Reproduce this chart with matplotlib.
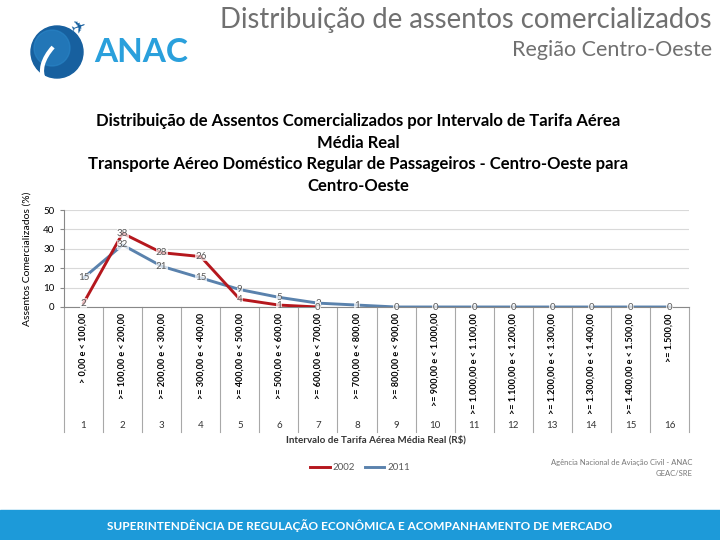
import matplotlib
matplotlib.use('Agg')
import matplotlib.pyplot as plt
from matplotlib.patches import Circle, Arc, Rectangle
from matplotlib.transforms import blended_transform_factory
import numpy as np

plt.rcParams['font.family'] = ['Lato', 'DejaVu Sans']

# data
categories = list(range(1, 17))
intervals = ['> 0,00 e < 100,00', '>= 100,00 e < 200,00', '>= 200,00 e < 300,00',
             '>= 300,00 e < 400,00', '>= 400,00 e < 500,00', '>= 500,00 e < 600,00',
             '>= 600,00 e < 700,00', '>= 700,00 e < 800,00', '>= 800,00 e < 900,00',
             '>= 900,00 e < 1.000,00', '>= 1.000,00 e < 1.100,00', '>= 1.100,00 e < 1.200,00',
             '>= 1.200,00 e < 1.300,00', '>= 1.300,00 e < 1.400,00', '>= 1.400,00 e < 1.500,00',
             '>= 1.500,00']
vals_2002 = [2, 38, 28, 26, 4, 1, 0]
vals_2011 = [15, 32, 21, 15, 9, 5, 2, 1, 0, 0, 0, 0, 0, 0, 0, 0]
years = ['2002', '2011']

col_2002 = '#b5171d'
col_2011 = '#5a82ad'
grey = '#595959'

fig = plt.figure(figsize=(7.2, 5.4), dpi=100)

# page overlay in pixel units
pg = fig.add_axes([0, 0, 1, 1], zorder=0)
pg.set_xlim(0, 720)
pg.set_ylim(540, 0)
pg.axis('off')

# header
pg.text(712, 20, 'Distribuição de assentos comercializados', ha='right', va='center',
        fontsize=19.8, color='#707070')
pg.text(712, 50, 'Região Centro-Oeste', ha='right', va='center', fontsize=15.5,
        color='#707070')

# logo (rough)
pg.add_patch(Circle((57, 52), 26, color='#17609f'))
pg.add_patch(Circle((52, 48), 18, color='#2a86c8', alpha=0.6))
pg.add_patch(Arc((72, 58), 70, 42, angle=-40, theta1=120, theta2=250, color='white', lw=3))
pg.text(80, 28, '✈', family='DejaVu Sans', fontsize=13, color='#17609f', ha='center',
        va='center', rotation=20)
pg.text(141, 53, 'ANAC', ha='center', va='center', fontsize=24, fontweight='bold', color='#2aa0dc')

# chart title
title_lines = ['Distribuição de Assentos Comercializados por Intervalo de Tarifa Aérea',
               'Média Real',
               'Transporte Aéreo Doméstico Regular de Passageiros - Centro-Oeste para',
               'Centro-Oeste']
for i, t in enumerate(title_lines):
    pg.text(358, 121 + i * 21.7, t, ha='center', va='center', fontsize=12, fontweight='bold')

# bottom band
pg.add_patch(Rectangle((0, 510), 720, 30, color='#1d9ad9'))
pg.text(360, 526, 'SUPERINTENDÊNCIA DE REGULAÇÃO ECONÔMICA E ACOMPANHAMENTO DE MERCADO',
        ha='center', va='center', fontsize=8.5, fontweight='bold', color='white')

# source
pg.text(692, 462, 'Agência Nacional de Aviação Civil - ANAC', ha='right', va='center',
        fontsize=5.5, color='#777777')
pg.text(692, 473, 'GEAC/SRE', ha='right', va='center', fontsize=5.5, color='#777777')

# chart
ax = fig.add_axes([64 / 720, 1 - 307 / 540, 625 / 720, 97 / 540], zorder=1)
ax.patch.set_alpha(0)
x = np.array(categories)
ax.plot(x[:len(vals_2002)], vals_2002, color=col_2002, lw=2.1, label=years[0], zorder=3)
ax.plot(x, vals_2011, color=col_2011, lw=2.1, label=years[1], zorder=2)

for xi, v in zip(x, vals_2011):
    ax.text(xi, v, str(v), ha='center', va='center', fontsize=7, color=grey, zorder=4,
            bbox=dict(facecolor='white', edgecolor='none', pad=0.3, alpha=0.7))
for xi, v in zip(x, vals_2002):
    ax.text(xi, v, str(v), ha='center', va='center', fontsize=7, color=grey, zorder=5,
            bbox=dict(facecolor='white', edgecolor='none', pad=0.3, alpha=0.7))

ax.set_xlim(0.5, 16.5)
ax.set_ylim(0, 50)
ax.set_yticks([0, 10, 20, 30, 40, 50])
ax.tick_params(axis='y', labelsize=7, length=3, color='#888888', pad=4)
ax.set_xticks([])
ax.grid(axis='y', color='#d9d9d9', lw=0.8)
ax.set_axisbelow(True)
for s in ['top', 'right']:
    ax.spines[s].set_visible(False)
ax.spines['left'].set_color('#888888')
ax.spines['bottom'].set_color('#888888')
ax.set_ylabel('Assentos Comercializados (%)', fontsize=7.5, labelpad=8)

# category table under the axis
tr = blended_transform_factory(ax.transData, pg.transData)
for b in np.arange(0.5, 17, 1):
    pg.plot([b, b], [307, 432], color='#a8a8a8', lw=0.8, transform=tr, clip_on=False)
for xi, lab in zip(x, intervals):
    pg.text(xi, 313, lab, rotation=90, ha='center', va='top', fontsize=6.5,
            fontweight='bold', transform=tr)
    pg.text(xi, 426, str(xi), ha='center', va='center', fontsize=7, color='#333333', transform=tr)
pg.text(376, 440, 'Intervalo de Tarifa Aérea Média Real (R$)', ha='center', va='center',
        fontsize=7, fontweight='bold', color='#333333')

ax.legend(loc='center', bbox_to_anchor=(360 / 720, 1 - 468 / 540),
          bbox_transform=fig.transFigure, ncol=2, frameon=False, fontsize=7,
          handlelength=2.0, handletextpad=0.3, columnspacing=1.0, labelcolor=grey)

fig.savefig('out.png', dpi=100)
